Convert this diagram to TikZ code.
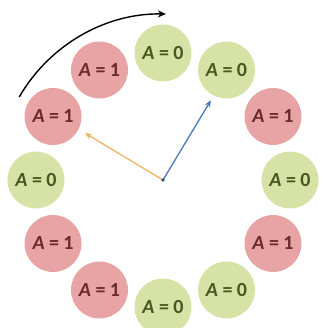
\documentclass[tikz,border=0pt]{standalone}
\usepackage{fontspec}
\setmainfont{Carlito}
\usetikzlibrary{arrows.meta}
\definecolor{redfill}{HTML}{E8A4A4}
\definecolor{greenfill}{HTML}{D6E2A6}
\definecolor{redtext}{HTML}{6A2A2E}
\definecolor{greentext}{HTML}{4A5820}
\definecolor{bluearrow}{HTML}{4A78BE}
\definecolor{orangearrow}{HTML}{F0B466}
\newcommand{\eqsp}{\hspace{0.22em}}
\begin{document}
\begin{tikzpicture}[x=1pt,y=1pt,
  state/.style={circle,minimum size=57pt,inner sep=0pt,font=\bfseries\fontsize{20}{20}\selectfont},
  one/.style={state,fill=redfill,text=redtext,node contents={\textit{A}\eqsp=\eqsp1}},
  zero/.style={state,fill=greenfill,text=greentext,node contents={\textit{A}\eqsp=\eqsp0}},
  vec/.style={line width=1.3pt,-{Stealth[length=7pt,width=6pt]}}]
\useasboundingbox (-163,-148) rectangle (159,180);
\coordinate (o) at (0,0);
\node (s90)  at (90:127)  [zero];
\node (s120) at (120:127) [one];
\node (s150) at (150:127) [one];
\node (s180) at (180:127) [zero];
\node (s210) at (210:127) [one];
\node (s240) at (240:127) [one];
\node (s270) at (270:127) [zero];
\node (s300) at (300:127) [zero];
\node (s330) at (330:127) [one];
\node (s0)   at (0:127)   [zero];
\node (s30)  at (30:127)  [one];
\node (s60)  at (60:127)  [zero];
\coordinate (arcstart) at (150:166);
\draw[line width=1.4pt,-{Stealth[length=8pt,width=7pt]}] (arcstart) arc[start angle=150,end angle=89,radius=166];
\coordinate (bluetip) at (59:93);
\coordinate (orangetip) at (149:91);
\draw[vec,draw=orangearrow] (o) -- (orangetip);
\draw[vec,draw=bluearrow] (o) -- (bluetip);
\fill[bluearrow!70!black] (o) circle (1.8pt);
\end{tikzpicture}
\end{document}
